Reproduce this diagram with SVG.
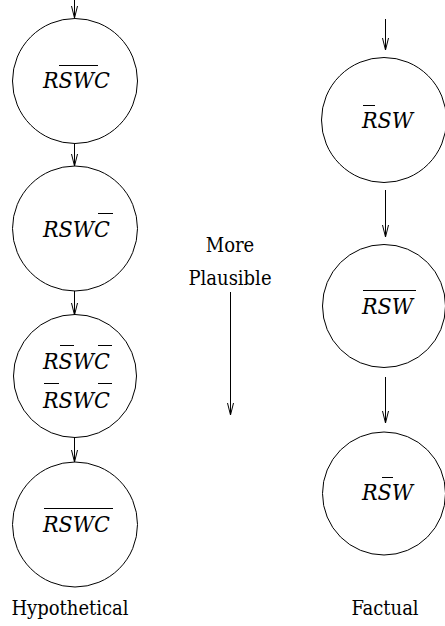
<svg xmlns="http://www.w3.org/2000/svg" width="445" height="626" viewBox="0 0 445 626">
<style>
.node{fill:none;stroke:#000;stroke-width:1}
text{font-family:'DejaVu Serif',serif;font-stretch:condensed;fill:#000}
.m{font-style:italic;font-size:23px}
.lbl{font-size:20px;text-anchor:middle}
.ov{stroke:#000;stroke-width:1}
.edge{stroke:#000;stroke-width:1;fill:none;marker-end:url(#ah)}
</style>
<defs>
<marker id="ah" markerUnits="userSpaceOnUse" viewBox="-13 -4 14 8" refX="0" refY="0" markerWidth="14" markerHeight="8" orient="auto">
<path d="M-12,-3 L0,0 L-12,3" fill="none" stroke="#000" stroke-width="1"/>
</marker>
</defs>
<rect width="445" height="626" fill="#fff"/>
<g id="connectors">
<line class="edge" x1="74.5" y1="0" x2="74.5" y2="18"/>
<line class="edge" x1="74.5" y1="144" x2="74.5" y2="166"/>
<line class="edge" x1="74.5" y1="291" x2="74.5" y2="315"/>
<line class="edge" x1="74.5" y1="437" x2="74.5" y2="462"/>
<line class="edge" x1="385.5" y1="19" x2="385.5" y2="50"/>
<line class="edge" x1="385.5" y1="190" x2="385.5" y2="237"/>
<line class="edge" x1="385.5" y1="377" x2="385.5" y2="423"/>
<line class="edge" x1="230.5" y1="292" x2="230.5" y2="415"/>
</g>
<g id="h1">
<circle class="node" cx="75" cy="81" r="62.5"/>
<text class="m" x="43" y="88">RSWC</text>
<line class="ov" x1="59" y1="65.5" x2="98" y2="65.5"/>
</g>
<g id="h2">
<circle class="node" cx="75" cy="228.5" r="62.5"/>
<text class="m" x="43" y="237">RSWC</text>
<line class="ov" x1="98" y1="213.5" x2="113" y2="213.5"/>
</g>
<g id="h3">
<circle class="node" cx="75" cy="376" r="61.5"/>
<text class="m" x="43" y="369">RSWC</text>
<line class="ov" x1="60" y1="345.5" x2="74" y2="345.5"/>
<line class="ov" x1="98" y1="345.5" x2="112" y2="345.5"/>
<text class="m" x="43" y="408">RSWC</text>
<line class="ov" x1="44" y1="383.5" x2="59" y2="383.5"/>
<line class="ov" x1="98" y1="383.5" x2="112" y2="383.5"/>
</g>
<g id="h4">
<circle class="node" cx="75" cy="524.5" r="62.5"/>
<text class="m" x="43" y="532">RSWC</text>
<line class="ov" x1="44" y1="508.5" x2="113" y2="508.5"/>
</g>
<g id="f1">
<circle class="node" cx="384" cy="120" r="62.5"/>
<text class="m" x="362" y="128">RSW</text>
<line class="ov" x1="363" y1="105.5" x2="375" y2="105.5"/>
</g>
<g id="f2">
<circle class="node" cx="384" cy="306" r="61.5"/>
<text class="m" x="362" y="314">RSW</text>
<line class="ov" x1="363" y1="290.5" x2="416" y2="290.5"/>
</g>
<g id="f3">
<circle class="node" cx="384" cy="493.5" r="61.5"/>
<text class="m" x="362" y="500">RSW</text>
<line class="ov" x1="382" y1="477.5" x2="393" y2="477.5"/>
</g>
<g id="labels">
<text class="lbl" x="230" y="252">More</text>
<text class="lbl" x="230" y="285">Plausible</text>
<text class="lbl" x="70" y="615">Hypothetical</text>
<text class="lbl" x="385" y="615">Factual</text>
</g>
</svg>
